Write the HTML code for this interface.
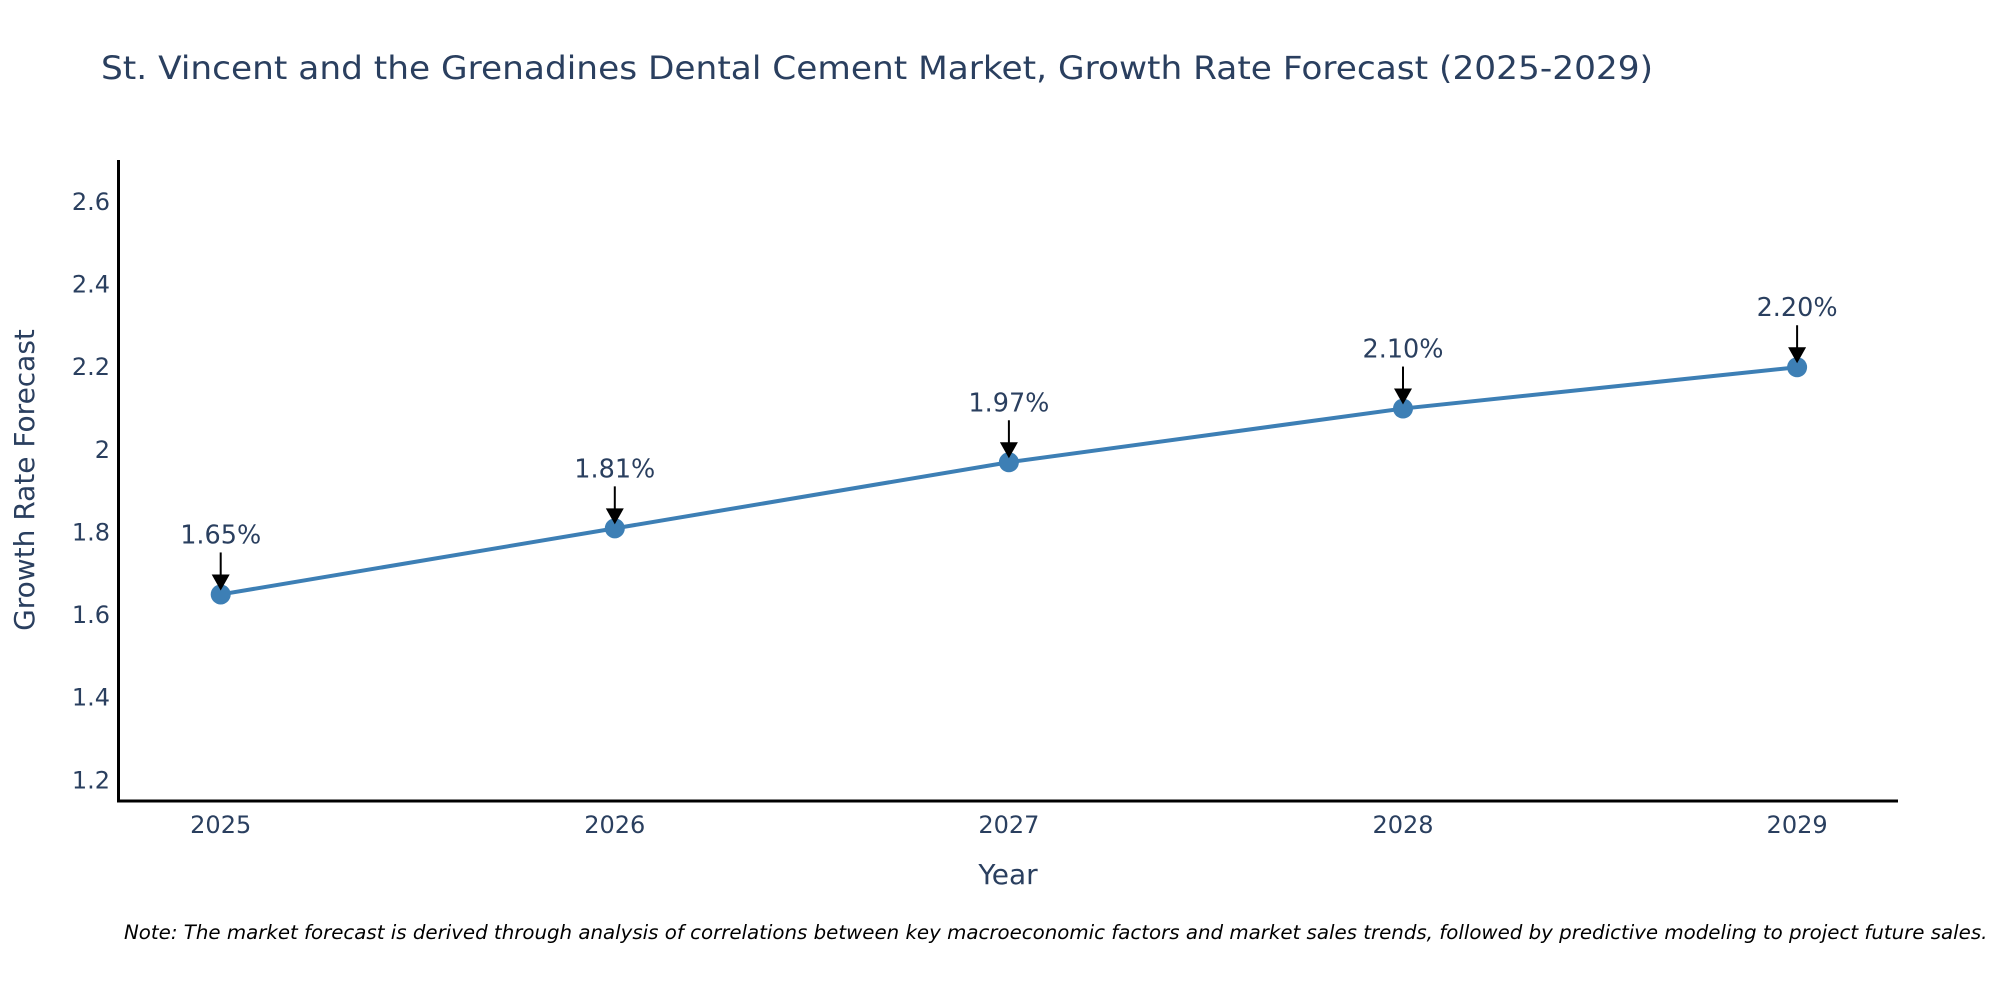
<!DOCTYPE html>
<html><head><meta charset="utf-8"><style>
html,body{margin:0;padding:0;background:#fff;}
svg{display:block;font-family:"DejaVu Sans","Liberation Sans",sans-serif;}
</style></head><body>
<svg id="chart" width="2000" height="1000" viewBox="0 0 2000 1000">
<text x="101" y="79" font-size="32" fill="#2a3f5f" textLength="1552" lengthAdjust="spacingAndGlyphs">St. Vincent and the Grenadines Dental Cement Market, Growth Rate Forecast (2025-2029)</text>
<g id="yticks"></g>
<g id="xticks"></g>
<g id="series"></g>
<g id="annos"></g>
<line x1="118.5" y1="160" x2="118.5" y2="802" stroke="#000" stroke-width="3"/>
<line x1="117" y1="801" x2="1898" y2="801" stroke="#000" stroke-width="3"/>
<text transform="translate(34,480) rotate(-90)" text-anchor="middle" font-size="28" fill="#2a3f5f">Growth Rate Forecast</text>
<text x="1008" y="884" text-anchor="middle" font-size="28" fill="#2a3f5f">Year</text>
<text x="124" y="939" font-size="19.8" font-style="italic" fill="#000">Note: The market forecast is derived through analysis of correlations between key macroeconomic factors and market sales trends, followed by predictive modeling to project future sales.</text>
</svg>
<script>
const years = ["2025","2026","2027","2028","2029"];
const growth = [1.65, 1.81, 1.97, 2.10, 2.20];
const labels = ["1.65%","1.81%","1.97%","2.10%","2.20%"];
const yTickVals = [1.2, 1.4, 1.6, 1.8, 2.0, 2.2, 2.4, 2.6];
const yTickLabels = ["1.2","1.4","1.6","1.8","2","2.2","2.4","2.6"];

const NS = "http://www.w3.org/2000/svg";
const yMin = 1.15, yMax = 2.70, yTop = 160.7, yBot = 801;
function yScale(v){ return yBot - (v - yMin) / (yMax - yMin) * (yBot - yTop); }
function xScale(i){ return 220.7 + i * 394.1; }
function mk(tag, attrs, parent){ const e = document.createElementNS(NS, tag); for (const k in attrs) e.setAttribute(k, attrs[k]); parent.appendChild(e); return e; }

const yt = document.getElementById('yticks');
yTickVals.forEach((v, i) => {
  const t = mk('text', {x: 110, y: yScale(v) + 8, 'text-anchor': 'end', 'font-size': 24, fill: '#2a3f5f'}, yt);
  t.textContent = yTickLabels[i];
  
  
});
const xt = document.getElementById('xticks');
years.forEach((y, i) => {
  const t = mk('text', {x: xScale(i), y: 833, 'text-anchor': 'middle', 'font-size': 24, fill: '#2a3f5f'}, xt);
  t.textContent = y;
  
  
});
const s = document.getElementById('series');
const pts = growth.map((v, i) => xScale(i) + ',' + yScale(v)).join(' ');
const pl = mk('polyline', {points: pts, fill: 'none', stroke: '#3d7fb5', 'stroke-width': 4}, s);


growth.forEach((v, i) => {
  const c = mk('circle', {cx: xScale(i), cy: yScale(v), r: 10, fill: '#3d7fb5'}, s);
  
  
});
const a = document.getElementById('annos');
growth.forEach((v, i) => {
  const x = xScale(i), y = yScale(v);
  const ln = mk('line', {x1: x, y1: y - 42, x2: x, y2: y - 16, stroke: '#000', 'stroke-width': 2}, a);
  
  
  const hd = mk('polygon', {points: `${x-9},${y-20} ${x+9},${y-20} ${x},${y-4}`, fill: '#000'}, a);
  
  
  const t = mk('text', {x: x, y: y - 51, 'text-anchor': 'middle', 'font-size': 25.5, fill: '#2a3f5f'}, a);
  t.textContent = labels[i];
  
  
});
</script>
</body></html>
